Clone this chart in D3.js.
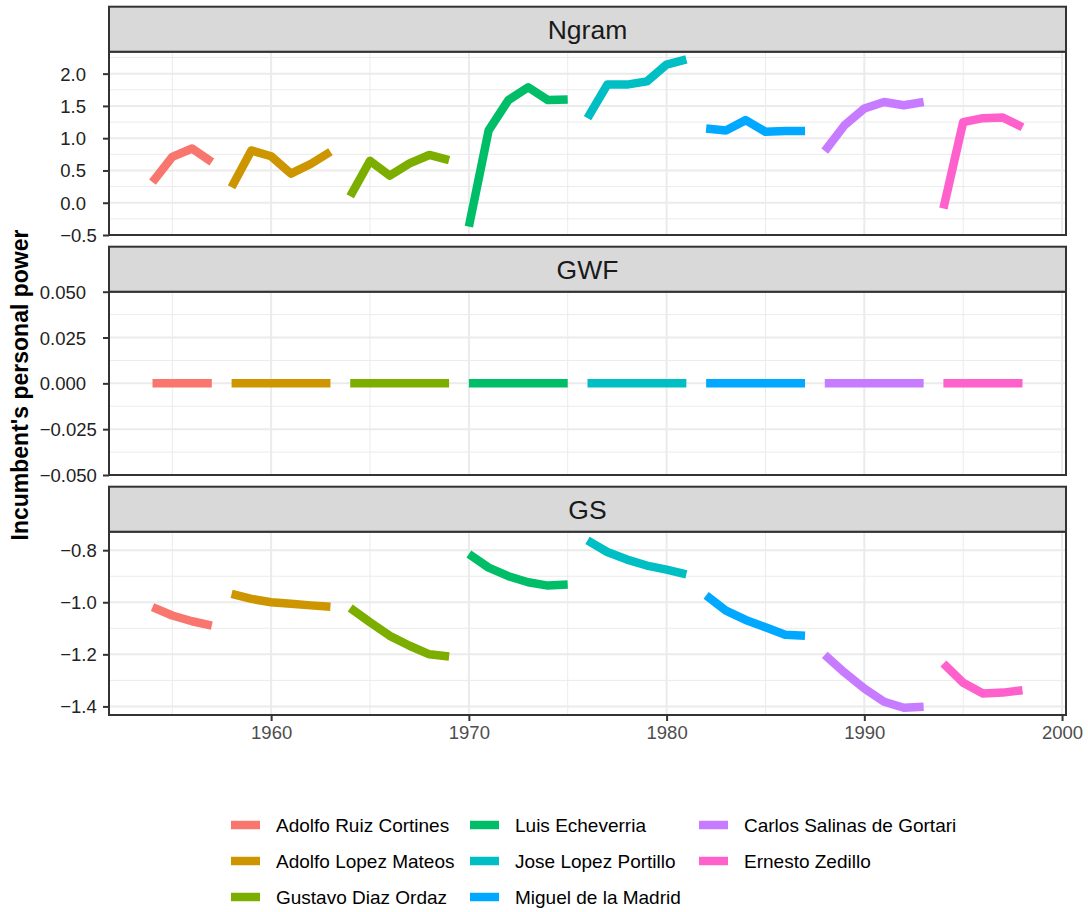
<!DOCTYPE html>
<html>
<head>
<meta charset="utf-8">
<script src="https://cdn.jsdelivr.net/npm/d3@7"></script>
<style>
  html, body { margin: 0; padding: 0; background: #fff; }
  svg { display: block; font-family: "Liberation Sans", Arial, Helvetica, sans-serif; }
</style>
</head>
<body>
<svg id="chart" width="1088" height="912"></svg>
<script>
// ---------------- DATA ----------------
const presidents = [
  "Adolfo Ruiz Cortines", "Adolfo Lopez Mateos", "Gustavo Diaz Ordaz",
  "Luis Echeverria", "Jose Lopez Portillo", "Miguel de la Madrid",
  "Carlos Salinas de Gortari", "Ernesto Zedillo"
];
const colors = ["#F8766D", "#CD9600", "#7CAE00", "#00BE67", "#00BFC4", "#00A9FF", "#C77CFF", "#FF61CC"];

const years = [
  [1954, 1955, 1956, 1957],
  [1958, 1959, 1960, 1961, 1962, 1963],
  [1964, 1965, 1966, 1967, 1968, 1969],
  [1970, 1971, 1972, 1973, 1974, 1975],
  [1976, 1977, 1978, 1979, 1980, 1981],
  [1982, 1983, 1984, 1985, 1986, 1987],
  [1988, 1989, 1990, 1991, 1992, 1993],
  [1994, 1995, 1996, 1997, 1998]
];

const ngramValues = [
  [0.32, 0.71, 0.84, 0.63],
  [0.24, 0.81, 0.72, 0.45, 0.60, 0.79],
  [0.10, 0.65, 0.42, 0.61, 0.74, 0.66],
  [-0.37, 1.12, 1.59, 1.79, 1.59, 1.60],
  [1.31, 1.83, 1.83, 1.88, 2.14, 2.22],
  [1.15, 1.12, 1.28, 1.10, 1.11, 1.11],
  [0.80, 1.20, 1.46, 1.56, 1.51, 1.56],
  [-0.09, 1.25, 1.31, 1.32, 1.17]
];

const gwfValues = [
  [0, 0, 0, 0],
  [0, 0, 0, 0, 0, 0],
  [0, 0, 0, 0, 0, 0],
  [0, 0, 0, 0, 0, 0],
  [0, 0, 0, 0, 0, 0],
  [0, 0, 0, 0, 0, 0],
  [0, 0, 0, 0, 0, 0],
  [0, 0, 0, 0, 0]
];

const gsValues = [
  [-1.019, -1.051, -1.073, -1.090],
  [-0.968, -0.987, -1.000, -1.006, -1.012, -1.017],
  [-1.022, -1.077, -1.129, -1.167, -1.200, -1.208],
  [-0.815, -0.867, -0.900, -0.923, -0.936, -0.932],
  [-0.762, -0.807, -0.836, -0.859, -0.875, -0.893],
  [-0.974, -1.032, -1.068, -1.096, -1.125, -1.129],
  [-1.202, -1.270, -1.331, -1.382, -1.405, -1.401],
  [-1.235, -1.309, -1.350, -1.347, -1.338]
];

const panelNames = ["Ngram", "GWF", "GS"];
const ngramTicks = [-0.5, 0.0, 0.5, 1.0, 1.5, 2.0];
const ngramTickLabels = ["\u22120.5", "0.0", "0.5", "1.0", "1.5", "2.0"];
const gwfTicks = [-0.05, -0.025, 0, 0.025, 0.05];
const gwfTickLabels = ["\u22120.050", "\u22120.025", "0.000", "0.025", "0.050"];
const gsTicks = [-1.4, -1.2, -1.0, -0.8];
const gsTickLabels = ["\u22121.4", "\u22121.2", "\u22121.0", "\u22120.8"];
const xTicks = [1960, 1970, 1980, 1990, 2000];
const xTickLabels = ["1960", "1970", "1980", "1990", "2000"];
const yTitle = "Incumbent's personal power";

// ---------------- LAYOUT ----------------
const svg = d3.select("#chart");
const W = 1088, H = 912;
const left = 109, right = 1066;
const stripH = 45, panelH = 183.3, gap = 11.7;
const top0 = 6.7;
const font = '"Liberation Sans", Arial, Helvetica, sans-serif';
const tickFont = 18.5;

const x = d3.scaleLinear().domain([1951.8, 2000.2]).range([left, right]);

const panels = [
  { name: panelNames[0], values: ngramValues, domain: [-0.5, 2.34],
    ticks: ngramTicks, labels: ngramTickLabels, minor: [-0.25, 0.25, 0.75, 1.25, 1.75, 2.25] },
  { name: panelNames[1], values: gwfValues, domain: [-0.05, 0.05],
    ticks: gwfTicks, labels: gwfTickLabels, minor: [-0.0375, -0.0125, 0.0125, 0.0375] },
  { name: panelNames[2], values: gsValues, domain: [-1.433, -0.729],
    ticks: gsTicks, labels: gsTickLabels, minor: [-1.3, -1.1, -0.9] }
];

// measure minus width (ggplot-like alignment quirk: minus sign not counted)
const meas = svg.append("text").attr("font-size", tickFont).attr("font-family", font).text("\u2212");
const minusW = meas.node().getComputedTextLength();
meas.remove();

const xMinor = [1955, 1965, 1975, 1985, 1995];

panels.forEach((p, i) => {
  const stripTop = top0 + i * (stripH + panelH + gap);
  const pTop = stripTop + stripH;
  const pBot = pTop + panelH;
  const y = d3.scaleLinear().domain(p.domain).range([pBot, pTop]);
  const g = svg.append("g");

  // panel background
  g.append("rect").attr("x", left).attr("y", pTop).attr("width", right - left).attr("height", panelH).attr("fill", "#fff");

  // minor grid
  g.selectAll(".ymin").data(p.minor).join("line")
    .attr("x1", left).attr("x2", right).attr("y1", d => y(d)).attr("y2", d => y(d))
    .attr("stroke", "#EBEBEB").attr("stroke-width", 1);
  g.selectAll(".xmin").data(xMinor).join("line")
    .attr("y1", pTop).attr("y2", pBot).attr("x1", d => x(d)).attr("x2", d => x(d))
    .attr("stroke", "#EBEBEB").attr("stroke-width", 1);
  // major grid
  g.selectAll(".ymaj").data(p.ticks).join("line")
    .attr("x1", left).attr("x2", right).attr("y1", d => y(d)).attr("y2", d => y(d))
    .attr("stroke", "#EBEBEB").attr("stroke-width", 2);
  g.selectAll(".xmaj").data(xTicks).join("line")
    .attr("y1", pTop).attr("y2", pBot).attr("x1", d => x(d)).attr("x2", d => x(d))
    .attr("stroke", "#EBEBEB").attr("stroke-width", 2);

  // lines
  const line = d3.line().x(d => x(d[0])).y(d => y(d[1]));
  p.values.forEach((vals, k) => {
    const pts = vals.map((v, j) => [years[k][j], v]);
    g.append("path").attr("d", line(pts))
      .attr("fill", "none").attr("stroke", colors[k]).attr("stroke-width", 8.5)
      .attr("stroke-linejoin", "round").attr("stroke-linecap", "butt");
  });

  // panel border
  g.append("rect").attr("x", left).attr("y", pTop).attr("width", right - left).attr("height", panelH)
    .attr("fill", "none").attr("stroke", "#333333").attr("stroke-width", 2);

  // strip
  g.append("rect").attr("x", left).attr("y", stripTop).attr("width", right - left).attr("height", stripH)
    .attr("fill", "#D9D9D9").attr("stroke", "#333333").attr("stroke-width", 2);
  g.append("text").attr("x", (left + right) / 2).attr("y", stripTop + stripH / 2 + 9.5)
    .attr("text-anchor", "middle").attr("font-size", 26.5).attr("fill", "#1A1A1A").text(p.name);

  // y axis
  const yAxis = d3.axisLeft(y).tickValues(p.ticks).tickSize(6).tickPadding(17)
    .tickFormat((d, j) => p.labels[j]);
  const ag = svg.append("g").attr("transform", `translate(${left},0)`).call(yAxis);
  ag.select(".domain").remove();
  ag.selectAll(".tick line").attr("stroke", "#333333").attr("stroke-width", 2);
  ag.selectAll(".tick text").attr("font-size", tickFont).attr("font-family", font).attr("fill", "#222")
    .attr("dy", "0.35em")
    .attr("dx", function () { return this.textContent.startsWith("\u2212") ? minusW : 0; });

  // x axis on bottom panel
  if (i === panels.length - 1) {
    const xAxis = d3.axisBottom(x).tickValues(xTicks).tickSize(6).tickPadding(5)
      .tickFormat((d, j) => xTickLabels[j]);
    const xg = svg.append("g").attr("transform", `translate(0,${pBot})`).call(xAxis);
    xg.select(".domain").remove();
    xg.selectAll(".tick line").attr("stroke", "#333333").attr("stroke-width", 2);
    xg.selectAll(".tick text").attr("font-size", tickFont).attr("font-family", font).attr("fill", "#4D4D4D");
  }
});

// y title
svg.append("text")
  .attr("transform", "translate(28,385) rotate(-90)")
  .attr("text-anchor", "middle").attr("font-size", 23).attr("font-weight", "bold").attr("fill", "#000")
  .text(yTitle);

// legend (column-wise, 3 columns)
const legCols = [[231, 276], [470, 515], [699, 744]];
const legRows = [825, 861, 897];
presidents.forEach((name, k) => {
  const c = Math.floor(k / 3), r = k % 3;
  const lg = svg.append("g");
  lg.append("line").attr("x1", legCols[c][0]).attr("x2", legCols[c][0] + 29)
    .attr("y1", legRows[r]).attr("y2", legRows[r])
    .attr("stroke", colors[k]).attr("stroke-width", 8.5);
  lg.append("text").attr("x", legCols[c][1]).attr("y", legRows[r] + 6.8)
    .attr("font-size", 19).attr("fill", "#000").text(name);
});
</script>
</body>
</html>
